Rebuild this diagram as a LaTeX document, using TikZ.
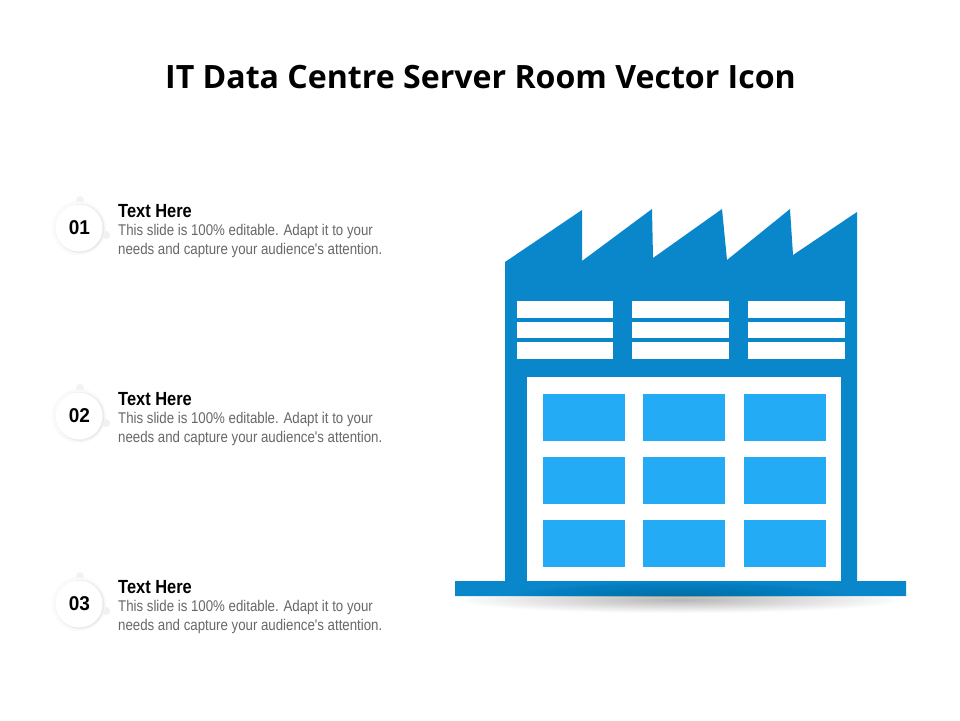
\documentclass[tikz,border=0pt]{standalone}
\usepackage{fontspec}
\setmainfont{Liberation Sans}
\newfontfamily\titlefont{Open Sans}
\newfontfamily\headfont[FakeStretch=0.865]{Liberation Sans}
\newfontfamily\narrowfont[FakeStretch=0.855]{Liberation Sans}
\newfontfamily\numfont[FakeStretch=0.95]{Liberation Sans}
\definecolor{bldg}{HTML}{0A87CA}
\definecolor{cell}{HTML}{23ABF6}
\definecolor{bodytext}{HTML}{686868}
\tikzset{
  titletext/.style={font=\titlefont\bfseries\fontsize{32.1}{38}\selectfont,text=black,anchor=base,inner sep=0pt},
  headtext/.style={font=\headfont\bfseries\fontsize{19}{22}\selectfont,text=black,anchor=base west,inner sep=0pt},
  bodyline/.style={font=\narrowfont\fontsize{15.5}{19}\selectfont,text=bodytext,anchor=base west,inner sep=0pt},
  numtext/.style={font=\numfont\bfseries\fontsize{20}{24}\selectfont,text=black,anchor=center,inner sep=0pt},
  louver/.style={fill=white,draw=none},
  pane/.style={fill=cell,draw=none},
}
\begin{document}
\begin{tikzpicture}[x=1pt,y=-1pt]
\useasboundingbox (0,0) rectangle (960,720);
\fill[white] (0,0) rectangle (960,720);
\node[titletext] (title) at (480.5,88) {IT Data Centre Server Room Vector Icon};

% badges
\foreach \n/\y/\lab in {a/228/01,b/416/02,c/604/03}{
  \fill[black!2] (79,\y) circle (27);
  \fill[black!5] (80,\y-28) circle (4);
  \fill[black!6] (106,\y+7) circle (4);
  \fill[black!2] (79,\y) circle (26);
  \fill[black!8] (80,\y+0.5) circle (24.5);
  \fill[white] (79,\y) circle (23.5);
  \node[numtext] (num\n) at (79.5,\y) {\lab};
  \node[headtext] (head\n) at (118,\y-11) {Text Here};
  \node[bodyline] (bodya\n) at (118,\y+7) {This slide is 100\% editable. Adapt it to your};
  \node[bodyline] (bodyb\n) at (118,\y+26) {needs and capture your audience's attention.};
}

% ground shadow
\begin{scope}
  \clip (440,596) rectangle (920,620);
  \foreach \k in {1,...,24}{
    \fill[black,opacity=0.012] (680,600) ellipse ({9.2*\k} and {0.55*\k});
  }
\end{scope}

% factory
\fill[bldg] (505,262) -- (582,210) -- (582,261) -- (652,209) -- (653,258) -- (722,209)
  -- (727,260) -- (790,209) -- (793,255) -- (857,212) -- (857,581) -- (906,581)
  -- (906,596) -- (455,596) -- (455,581) -- (505,581) -- cycle;
\begin{scope}
  \clip (455,581) rectangle (906,596);
  \foreach \k in {1,...,20}{
    \fill[black,opacity=0.008] (680,597) ellipse ({8.5*\k} and {0.8*\k});
  }
\end{scope}

\foreach \xa/\xb in {517/613,632/729,748/845}{
  \foreach \ya/\yb in {301/318,322/338,342/359}{
    \fill[louver] (\xa,\ya) rectangle (\xb,\yb);
  }
}
\fill[white] (527,377) rectangle (841,581);
\foreach \xa/\xb in {543/625,643/725,744/826}{
  \foreach \ya/\yb in {394/441,457/504,520/567}{
    \fill[pane] (\xa,\ya) rectangle (\xb,\yb);
  }
}
\end{tikzpicture}
\end{document}
